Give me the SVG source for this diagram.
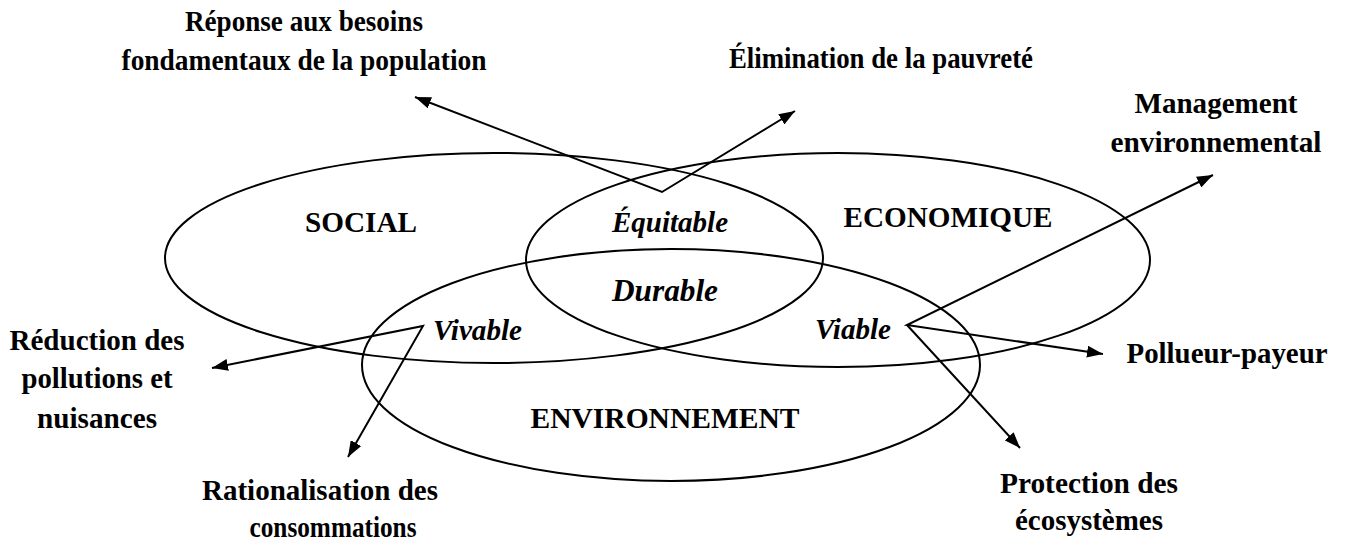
<svg xmlns="http://www.w3.org/2000/svg" width="1348" height="543" viewBox="0 0 1348 543">
  <defs>
    <marker id="head" viewBox="0 0 16 12" refX="16" refY="6" markerWidth="16" markerHeight="12" markerUnits="userSpaceOnUse" orient="auto-start-reverse">
      <path d="M0,0 L16,6 L0,12 Z" fill="#000"/>
    </marker>
    <style>
      .ring { fill: none; stroke: #000; stroke-width: 2; }
      .link { fill: none; stroke: #000; stroke-width: 2; marker-start: url(#head); marker-end: url(#head); }
      .link1 { fill: none; stroke: #000; stroke-width: 2; marker-end: url(#head); }
      text { font-family: "Liberation Serif", "Times New Roman", serif; font-weight: bold; fill: #000; font-size: 30px; }
      .mid { text-anchor: middle; }
      .zone { font-style: italic; }
    </style>
  </defs>

  <!-- the three pillars -->
  <g id="social">
    <ellipse class="ring" cx="494" cy="258" rx="329" ry="105"/>
    <text class="mid" x="361" y="232" textLength="112" lengthAdjust="spacingAndGlyphs">SOCIAL</text>
  </g>
  <g id="economique">
    <ellipse class="ring" cx="838" cy="260" rx="312" ry="107"/>
    <text class="mid" x="948" y="227" textLength="209" lengthAdjust="spacingAndGlyphs">ECONOMIQUE</text>
  </g>
  <g id="environnement">
    <ellipse class="ring" cx="671" cy="365" rx="309" ry="116"/>
    <text class="mid" x="665" y="428" textLength="269" lengthAdjust="spacingAndGlyphs">ENVIRONNEMENT</text>
  </g>

  <!-- overlap zones -->
  <g id="equitable"><text class="zone" x="612" y="232" textLength="116" lengthAdjust="spacingAndGlyphs">Équitable</text></g>
  <g id="durable"><text class="zone" x="612" y="301" style="font-size:32px" textLength="106" lengthAdjust="spacingAndGlyphs">Durable</text></g>
  <g id="vivable"><text class="zone" x="433" y="340" textLength="89" lengthAdjust="spacingAndGlyphs">Vivable</text></g>
  <g id="viable"><text class="zone" x="815" y="339" textLength="76" lengthAdjust="spacingAndGlyphs">Viable</text></g>

  <!-- outcome labels -->
  <g id="reponse">
    <text class="mid" x="304" y="31" textLength="238" lengthAdjust="spacingAndGlyphs">Réponse aux besoins</text>
    <text class="mid" x="304" y="70" textLength="365" lengthAdjust="spacingAndGlyphs">fondamentaux de la population</text>
  </g>
  <g id="elimination">
    <text class="mid" x="881" y="68" textLength="304" lengthAdjust="spacingAndGlyphs">Élimination de la pauvreté</text>
  </g>
  <g id="management">
    <text class="mid" x="1216" y="113" textLength="163" lengthAdjust="spacingAndGlyphs">Management</text>
    <text class="mid" x="1216" y="152" textLength="211" lengthAdjust="spacingAndGlyphs">environnemental</text>
  </g>
  <g id="reduction">
    <text class="mid" x="97" y="350" textLength="175" lengthAdjust="spacingAndGlyphs">Réduction des</text>
    <text class="mid" x="97" y="388" textLength="151" lengthAdjust="spacingAndGlyphs">pollutions et</text>
    <text class="mid" x="97" y="428" textLength="120" lengthAdjust="spacingAndGlyphs">nuisances</text>
  </g>
  <g id="pollueur">
    <text class="mid" x="1227" y="363" textLength="201" lengthAdjust="spacingAndGlyphs">Pollueur-payeur</text>
  </g>
  <g id="rationalisation">
    <text class="mid" x="320" y="500" textLength="236" lengthAdjust="spacingAndGlyphs">Rationalisation des</text>
    <text class="mid" x="333" y="537" textLength="167" lengthAdjust="spacingAndGlyphs">consommations</text>
  </g>
  <g id="protection">
    <text class="mid" x="1089" y="493" textLength="178" lengthAdjust="spacingAndGlyphs">Protection des</text>
    <text class="mid" x="1089" y="530" textLength="148" lengthAdjust="spacingAndGlyphs">écosystèmes</text>
  </g>

  <!-- connectors -->
  <g id="connectors">
    <path class="link" d="M415,97 L662,192 L795,111"/>
    <path class="link" d="M212,368 L423,326 L348,457"/>
    <path class="link" d="M1213,175 L907,325 L1103,354"/>
    <path class="link1" d="M907,325 L1020,448"/>
  </g>
</svg>
